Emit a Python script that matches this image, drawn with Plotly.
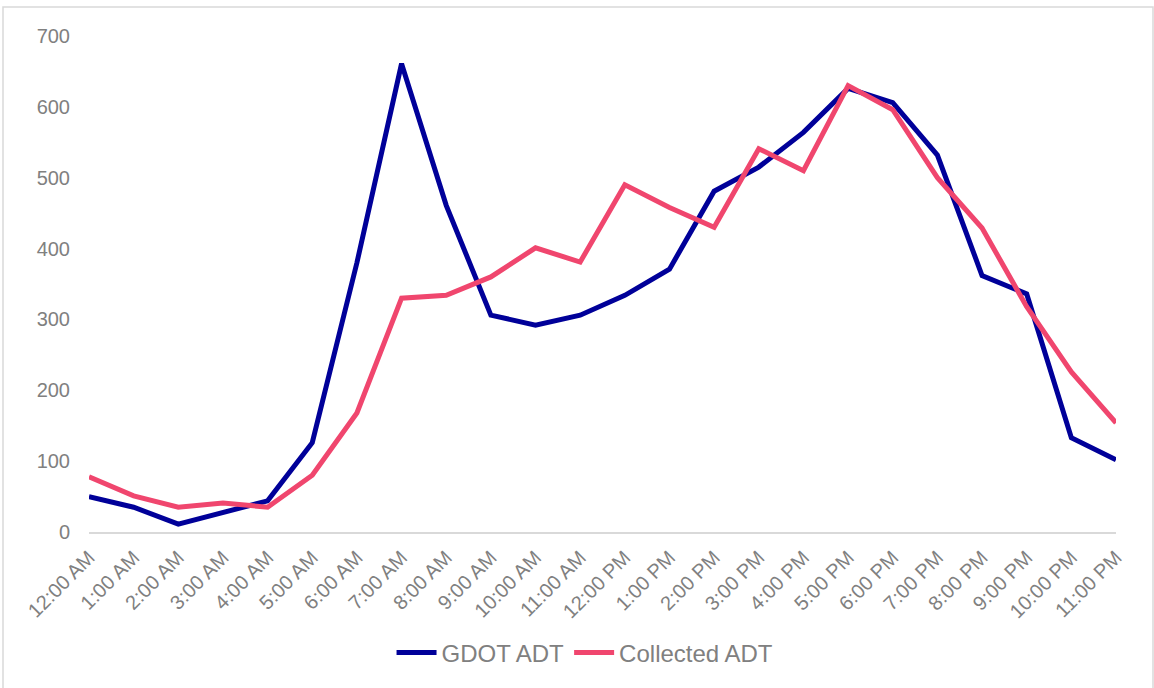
import plotly.graph_objects as go

hours = ["12:00 AM", "1:00 AM", "2:00 AM", "3:00 AM", "4:00 AM", "5:00 AM", "6:00 AM",
         "7:00 AM", "8:00 AM", "9:00 AM", "10:00 AM", "11:00 AM", "12:00 PM", "1:00 PM",
         "2:00 PM", "3:00 PM", "4:00 PM", "5:00 PM", "6:00 PM", "7:00 PM", "8:00 PM",
         "9:00 PM", "10:00 PM", "11:00 PM"]
gdot_adt = [50, 35, 11, 27, 44, 126, 380, 661, 461, 306, 292, 306, 334, 371,
            481, 515, 564, 626, 606, 532, 362, 336, 133, 102]
collected_adt = [78, 51, 35, 41, 35, 80, 168, 330, 334, 360, 401, 381, 490, 458,
                 430, 541, 510, 630, 596, 500, 429, 318, 226, 154]

fig = go.Figure()
fig.add_trace(go.Scatter(x=hours, y=gdot_adt, mode="lines", name="GDOT ADT",
                         line=dict(color="#000099", width=5)))
fig.add_trace(go.Scatter(x=hours, y=collected_adt, mode="lines", name="Collected ADT",
                         line=dict(color="#F0466E", width=5)))

fig.update_layout(
    width=1154, height=688,
    margin=dict(l=89, r=38, t=36, b=156),
    paper_bgcolor="white", plot_bgcolor="white",
    font=dict(family="Liberation Sans, Arial, sans-serif", color="#808080", size=20),
    showlegend=True,
    legend=dict(orientation="h", x=0.483, xanchor="center", y=-0.244, yanchor="middle",
                font=dict(size=24, color="#808080"), itemwidth=40),
    xaxis=dict(range=[0, 23], tickangle=-45, showgrid=False, showline=True,
               linecolor="#D9D9D9", linewidth=2, ticks="", zeroline=False,
               ticklabelstandoff=4,
               tickfont=dict(size=20, color="#808080")),
    yaxis=dict(range=[0, 700], dtick=100, showgrid=False, showline=False, zeroline=False,
               ticks="", ticklabelstandoff=18, tickfont=dict(size=20, color="#808080")),
    shapes=[dict(type="rect", xref="paper", yref="paper",
                 x0=(3 - 89) / 1027, x1=(1153 - 89) / 1027,
                 y0=(532 - 700) / 496, y1=(532 - 7) / 496,
                 line=dict(color="#D9D9D9", width=1.5), layer="below")],
)

fig.write_html("out.html")
